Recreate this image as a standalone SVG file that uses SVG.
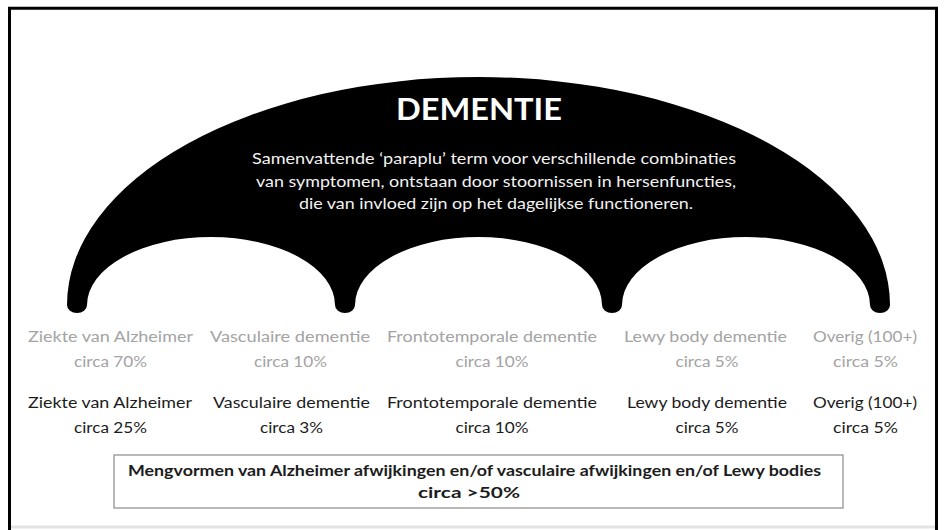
<svg xmlns="http://www.w3.org/2000/svg" width="944" height="530" viewBox="0 0 944 530">
<style>
.lbl{font-family:Lato,"Open Sans","Liberation Sans",sans-serif;font-size:15.5px;text-anchor:middle}
.gray{fill:#a3a3a3}
.dark{fill:#1c1c1c}
.desc{font-family:Lato,"Open Sans","Liberation Sans",sans-serif;font-size:16px;fill:#f2f2f2;text-anchor:middle}
.title{font-family:Lato,"Open Sans","Liberation Sans",sans-serif;font-size:31px;font-weight:bold;fill:#ffffff;text-anchor:middle}
.mix{font-family:Lato,"Open Sans","Liberation Sans",sans-serif;font-size:16px;font-weight:bold;fill:#1c1c1c;text-anchor:middle}
</style>
<rect x="0" y="0" width="944" height="530" fill="#ffffff"/>
<g id="frame">
<line x1="11" y1="527" x2="935" y2="527" stroke="#e3e3e3" stroke-width="3"/>
<path d="M9.5 530 V8.3 H936.5 V530" fill="none" stroke="#000000" stroke-width="3"/>
</g>
<g id="umbrella">
<path d="M67 305 A411.5 228 0 0 1 890 305 A10 8 0 0 1 870 305 A124 68 0 0 0 622 305 A10 8 0 0 1 602 305 A123.5 68 0 0 0 355 305 A10 8 0 0 1 335 305 A124 68 0 0 0 87 305 A10 8 0 0 1 67 305 Z" fill="#000000"/>
<text class="title" x="479" y="120" textLength="166" lengthAdjust="spacingAndGlyphs">DEMENTIE</text>
<text class="desc" x="494" y="164" textLength="484" lengthAdjust="spacingAndGlyphs">Samenvattende ‘paraplu’ term voor verschillende combinaties</text>
<text class="desc" x="496" y="187" textLength="480" lengthAdjust="spacingAndGlyphs">van symptomen, ontstaan door stoornissen in hersenfuncties,</text>
<text class="desc" x="496" y="209" textLength="394" lengthAdjust="spacingAndGlyphs">die van invloed zijn op het dagelijkse functioneren.</text>
</g>
<g id="row-gray">
<text class="lbl gray" x="110.5" y="342" textLength="165" lengthAdjust="spacingAndGlyphs">Ziekte van Alzheimer</text>
<text class="lbl gray" x="110.5" y="367" textLength="73" lengthAdjust="spacingAndGlyphs">circa 70%</text>
<text class="lbl gray" x="290" y="342" textLength="160" lengthAdjust="spacingAndGlyphs">Vasculaire dementie</text>
<text class="lbl gray" x="290.5" y="367" textLength="73" lengthAdjust="spacingAndGlyphs">circa 10%</text>
<text class="lbl gray" x="492" y="342" textLength="210" lengthAdjust="spacingAndGlyphs">Frontotemporale dementie</text>
<text class="lbl gray" x="492" y="367" textLength="73" lengthAdjust="spacingAndGlyphs">circa 10%</text>
<text class="lbl gray" x="705.5" y="342" textLength="163" lengthAdjust="spacingAndGlyphs">Lewy body dementie</text>
<text class="lbl gray" x="707" y="367" textLength="63" lengthAdjust="spacingAndGlyphs">circa 5%</text>
<text class="lbl gray" x="865" y="342" textLength="104" lengthAdjust="spacingAndGlyphs">Overig (100+)</text>
<text class="lbl gray" x="865.5" y="367" textLength="65" lengthAdjust="spacingAndGlyphs">circa 5%</text>
</g>
<g id="row-dark">
<text class="lbl dark" x="110" y="408" textLength="164" lengthAdjust="spacingAndGlyphs">Ziekte van Alzheimer</text>
<text class="lbl dark" x="110.5" y="433" textLength="73" lengthAdjust="spacingAndGlyphs">circa 25%</text>
<text class="lbl dark" x="291.5" y="408" textLength="157" lengthAdjust="spacingAndGlyphs">Vasculaire dementie</text>
<text class="lbl dark" x="291.5" y="433" textLength="63" lengthAdjust="spacingAndGlyphs">circa 3%</text>
<text class="lbl dark" x="492" y="408" textLength="210" lengthAdjust="spacingAndGlyphs">Frontotemporale dementie</text>
<text class="lbl dark" x="492" y="433" textLength="73" lengthAdjust="spacingAndGlyphs">circa 10%</text>
<text class="lbl dark" x="707" y="408" textLength="160" lengthAdjust="spacingAndGlyphs">Lewy body dementie</text>
<text class="lbl dark" x="707" y="433" textLength="63" lengthAdjust="spacingAndGlyphs">circa 5%</text>
<text class="lbl dark" x="865" y="408" textLength="104" lengthAdjust="spacingAndGlyphs">Overig (100+)</text>
<text class="lbl dark" x="865.5" y="433" textLength="65" lengthAdjust="spacingAndGlyphs">circa 5%</text>
</g>
<g id="mixed-box">
<rect x="114" y="455" width="729" height="53" fill="#ffffff" stroke="#8a8a8a" stroke-width="1.2"/>
<text class="mix" x="474.5" y="476" textLength="693" lengthAdjust="spacingAndGlyphs">Mengvormen van Alzheimer afwijkingen en/of vasculaire afwijkingen en/of Lewy bodies</text>
<text class="mix" x="469" y="498" textLength="102" lengthAdjust="spacingAndGlyphs">circa &gt;50%</text>
</g>
<g id="connectors"/>
</svg>
